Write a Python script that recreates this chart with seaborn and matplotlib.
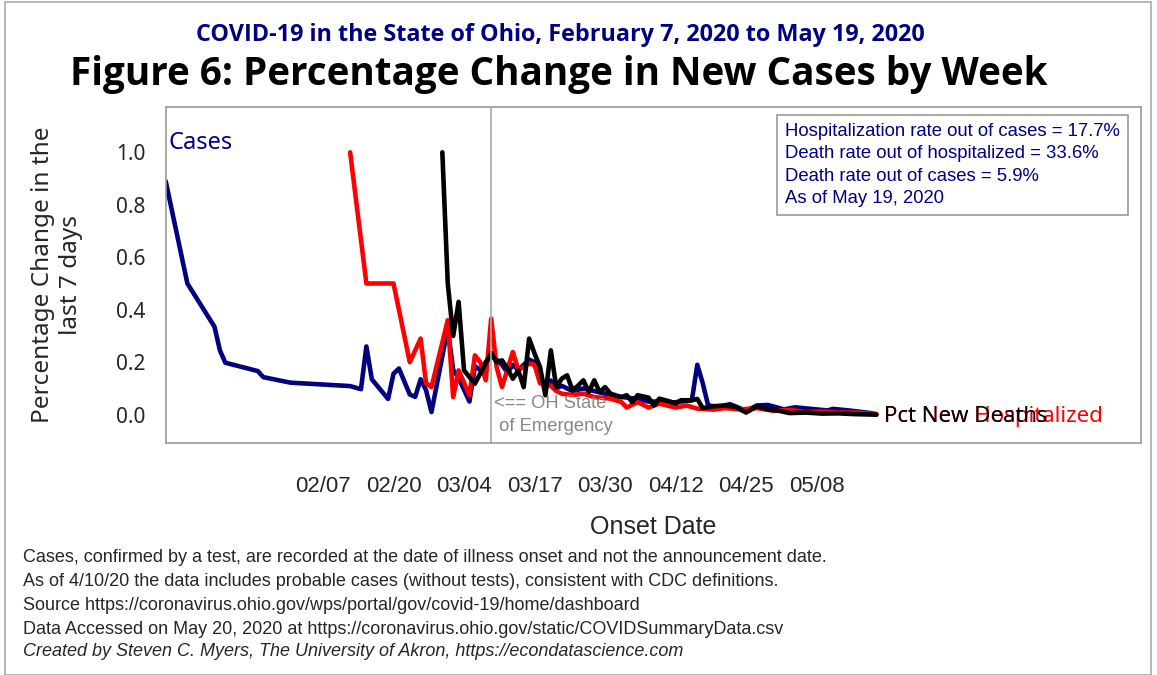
import matplotlib
matplotlib.use('agg')
import matplotlib.pyplot as plt
from matplotlib.patches import Rectangle
import numpy as np
import pandas as pd
import seaborn as sns

# percentage change in the last 7 days
case_dates = ['2020-01-09', '2020-01-13', '2020-01-18', '2020-01-19', '2020-01-20', '2020-01-26',
              '2020-01-27', '2020-02-01', '2020-02-12', '2020-02-14', '2020-02-15', '2020-02-16',
              '2020-02-19', '2020-02-20', '2020-02-21', '2020-02-23', '2020-02-24', '2020-02-25',
              '2020-02-26', '2020-02-27', '2020-03-01', '2020-03-02', '2020-03-03', '2020-03-05',
              '2020-03-06', '2020-03-07', '2020-03-08', '2020-03-09', '2020-03-10', '2020-03-11',
              '2020-03-12', '2020-03-13', '2020-03-14', '2020-03-15', '2020-03-16', '2020-03-17',
              '2020-03-18', '2020-03-19', '2020-03-20', '2020-03-21', '2020-03-22', '2020-03-24',
              '2020-03-26', '2020-03-28', '2020-03-30', '2020-04-01', '2020-04-03', '2020-04-05',
              '2020-04-07', '2020-04-09', '2020-04-11', '2020-04-13', '2020-04-15', '2020-04-16',
              '2020-04-17', '2020-04-18', '2020-04-20', '2020-04-22', '2020-04-25', '2020-04-27',
              '2020-04-29', '2020-05-02', '2020-05-04', '2020-05-07', '2020-05-10', '2020-05-11',
              '2020-05-14', '2020-05-18', '2020-05-19']
case_pct = [0.89, 0.50, 0.335, 0.245, 0.198, 0.166,
            0.143, 0.122, 0.109, 0.097, 0.26, 0.135,
            0.06, 0.156, 0.176, 0.077, 0.068, 0.135,
            0.093, 0.01, 0.33, 0.17, 0.14, 0.05,
            0.185, 0.17, 0.20, 0.225, 0.21, 0.19,
            0.16, 0.19, 0.17, 0.19, 0.21, 0.20,
            0.14, 0.10, 0.13, 0.10, 0.11, 0.09,
            0.10, 0.09, 0.08, 0.07, 0.065, 0.06,
            0.05, 0.05, 0.045, 0.05, 0.055, 0.19,
            0.12, 0.035, 0.03, 0.04, 0.015, 0.035,
            0.037, 0.02, 0.028, 0.022, 0.016, 0.022,
            0.016, 0.006, 0.0]

hosp_dates = ['2020-02-12', '2020-02-15', '2020-02-20', '2020-02-23', '2020-02-25', '2020-02-26',
              '2020-02-27', '2020-03-01', '2020-03-02', '2020-03-03', '2020-03-05', '2020-03-06',
              '2020-03-07', '2020-03-08', '2020-03-09', '2020-03-10', '2020-03-11', '2020-03-13',
              '2020-03-14', '2020-03-15', '2020-03-16', '2020-03-17', '2020-03-18', '2020-03-20',
              '2020-03-21', '2020-03-22', '2020-03-24', '2020-03-26', '2020-03-28', '2020-03-31',
              '2020-04-02', '2020-04-03', '2020-04-05', '2020-04-07', '2020-04-09', '2020-04-12',
              '2020-04-14', '2020-04-16', '2020-04-19', '2020-04-21', '2020-04-24', '2020-04-27',
              '2020-04-30', '2020-05-03', '2020-05-06', '2020-05-09', '2020-05-12', '2020-05-15',
              '2020-05-19']
hosp_pct = [1.0, 0.5, 0.5, 0.2, 0.29, 0.12,
            0.105, 0.36, 0.067, 0.169, 0.074, 0.226,
            0.20, 0.131, 0.366, 0.182, 0.105, 0.239,
            0.169, 0.182, 0.195, 0.19, 0.12, 0.11,
            0.09, 0.08, 0.075, 0.08, 0.067, 0.061,
            0.048, 0.027, 0.048, 0.027, 0.042, 0.027,
            0.035, 0.023, 0.019, 0.025, 0.02, 0.025,
            0.015, 0.018, 0.01, 0.012, 0.008, 0.008,
            0.003]

death_dates = ['2020-02-29', '2020-03-01', '2020-03-02', '2020-03-03', '2020-03-04', '2020-03-06',
               '2020-03-09', '2020-03-10', '2020-03-11', '2020-03-12', '2020-03-13', '2020-03-14',
               '2020-03-15', '2020-03-16', '2020-03-17', '2020-03-18', '2020-03-19', '2020-03-20',
               '2020-03-21', '2020-03-22', '2020-03-23', '2020-03-24', '2020-03-25', '2020-03-26',
               '2020-03-27', '2020-03-28', '2020-03-29', '2020-03-30', '2020-03-31', '2020-04-02',
               '2020-04-03', '2020-04-04', '2020-04-05', '2020-04-07', '2020-04-08', '2020-04-09',
               '2020-04-11', '2020-04-12', '2020-04-13', '2020-04-15', '2020-04-16', '2020-04-17',
               '2020-04-19', '2020-04-21', '2020-04-23', '2020-04-25', '2020-04-27', '2020-04-29',
               '2020-05-01', '2020-05-03', '2020-05-06', '2020-05-09', '2020-05-12', '2020-05-15',
               '2020-05-19']
death_pct = [1.0, 0.5, 0.30, 0.43, 0.169, 0.118,
             0.235, 0.20, 0.207, 0.176, 0.137, 0.169,
             0.105, 0.29, 0.233, 0.182, 0.074, 0.245,
             0.105, 0.137, 0.15, 0.093, 0.11, 0.131,
             0.086, 0.131, 0.086, 0.105, 0.08, 0.067,
             0.074, 0.048, 0.074, 0.065, 0.035, 0.061,
             0.05, 0.042, 0.055, 0.055, 0.06, 0.025,
             0.032, 0.035, 0.03, 0.008, 0.032, 0.02,
             0.015, 0.006, 0.008, 0.004, 0.005, 0.002,
             0.0]

series_names = ['Cases', 'Hospitalized', 'Deaths']
series_colors = ['#000080', '#ff0000', '#000000']

notes = ["Cases, confirmed by a test, are recorded at the date of illness onset and not the announcement date.",
         "As of 4/10/20 the data includes probable cases (without tests), consistent with CDC definitions.",
         "Source https://coronavirus.ohio.gov/wps/portal/gov/covid-19/home/dashboard",
         "Data Accessed on May 20, 2020 at https://coronavirus.ohio.gov/static/COVIDSummaryData.csv"]
credit = "Created by Steven C. Myers, The University of Akron, https://econdatascience.com"
rates = ("Hospitalization rate out of cases = 17.7%\nDeath rate out of hospitalized = 33.6%\n"
         "Death rate out of cases = 5.9%\nAs of May 19, 2020")

df = pd.concat([
    pd.DataFrame({'date': pd.to_datetime(case_dates), 'pct': case_pct, 'series': 'Cases'}),
    pd.DataFrame({'date': pd.to_datetime(hosp_dates), 'pct': hosp_pct, 'series': 'Hospitalized'}),
    pd.DataFrame({'date': pd.to_datetime(death_dates), 'pct': death_pct, 'series': 'Deaths'}),
], ignore_index=True)

sns.set_style("white")
plt.rcParams['font.family'] = ['DejaVu Sans']
arial = ['Liberation Sans', 'DejaVu Sans']
noto = ['Noto Sans', 'DejaVu Sans']

fig = plt.figure(figsize=(11.57, 6.75), dpi=100)
ax = fig.add_axes([0.1432, 0.3437, 0.843, 0.4983])

sns.lineplot(data=df, x='date', y='pct', hue='series', hue_order=series_names,
             palette=series_colors, linewidth=3.3, legend=False, ax=ax, estimator=None, sort=True)

start = pd.Timestamp(case_dates[0])
ax.set_xlim(start, start + pd.Timedelta(days=179.8))
ax.set_ylim(-0.108, 1.174)

xt = pd.date_range('2020-02-07', '2020-05-08', freq='13D')
ax.set_xticks(xt)
ax.set_xticklabels([d.strftime('%m/%d') for d in xt], family=arial, fontsize=16)
ax.set_yticks(np.arange(0, 1.01, 0.2))
ax.set_yticklabels(['%.1f' % v for v in np.arange(0, 1.01, 0.2)], family=noto, fontsize=15)
ax.tick_params(axis='x', length=12, width=1, color='#999999', pad=12)
ax.tick_params(axis='y', length=8.5, width=1, color='#999999', pad=6)
for s in ax.spines.values():
    s.set_color('#999999')
    s.set_linewidth(1.2)

ax.set_xlabel('Onset Date', family=arial, fontsize=18, labelpad=13)
ax.set_ylabel('Percentage Change in the\nlast 7 days', family=noto, fontsize=17.5, labelpad=24,
              linespacing=1.2)

# state of emergency marker
soe = pd.Timestamp('2020-03-09')
ax.axvline(soe, color='#aaaaaa', linewidth=1.2)
ax.text(soe + pd.Timedelta(days=0.6), 0.075, '<== OH State\n of Emergency', color='#888888',
        fontsize=13.2, family=arial, va='top', ha='left', linespacing=1.45)

# series labels
end = pd.Timestamp(case_dates[-1]) + pd.Timedelta(days=1.4)
ax.text(end, -0.006, 'Pct New Hospitalized', color='#ff0000', fontsize=16,
        family=noto, va='center', ha='left')
ax.text(end, -0.006, 'Pct New Deaths', color='#000000', fontsize=16,
        family=noto, va='center', ha='left')
ax.text(0.003, 0.892, 'Cases', transform=ax.transAxes, color='#000080', fontsize=17,
        family=noto, va='center', ha='left')

ax.text(0.635, 0.952, rates, transform=ax.transAxes, color='#000080', fontsize=13.3,
        family=arial, va='top', ha='left', linespacing=1.42,
        bbox=dict(boxstyle='square,pad=0.42', facecolor='white', edgecolor='#999999', linewidth=1.2))

fig.text(0.484, 1 - 35 / 675, 'COVID-19 in the State of Ohio, February 7, 2020 to May 19, 2020',
         ha='center', va='center', color='#000080', fontsize=16.8, fontweight='bold',
         family=['Open Sans', 'DejaVu Sans'])
fig.text(0.483, 1 - 74 / 675, 'Figure 6: Percentage Change in New Cases by Week',
         ha='center', va='center', color='black', fontsize=27.8, fontweight='bold',
         family=['Open Sans', 'DejaVu Sans'])

for i, line in enumerate(notes):
    fig.text(0.02, 1 - (557 + i * 24.3) / 675, line, ha='left', va='center', fontsize=13,
             family=arial)
fig.text(0.02, 1 - 651 / 675, credit, ha='left', va='center', fontsize=13, style='italic',
         family=arial)

fig.add_artist(Rectangle((0.004, 0.0), 0.991, 0.997, transform=fig.transFigure, fill=False,
                         edgecolor='#aaaaaa', linewidth=1.2))

fig.savefig('out.png', dpi=100)
